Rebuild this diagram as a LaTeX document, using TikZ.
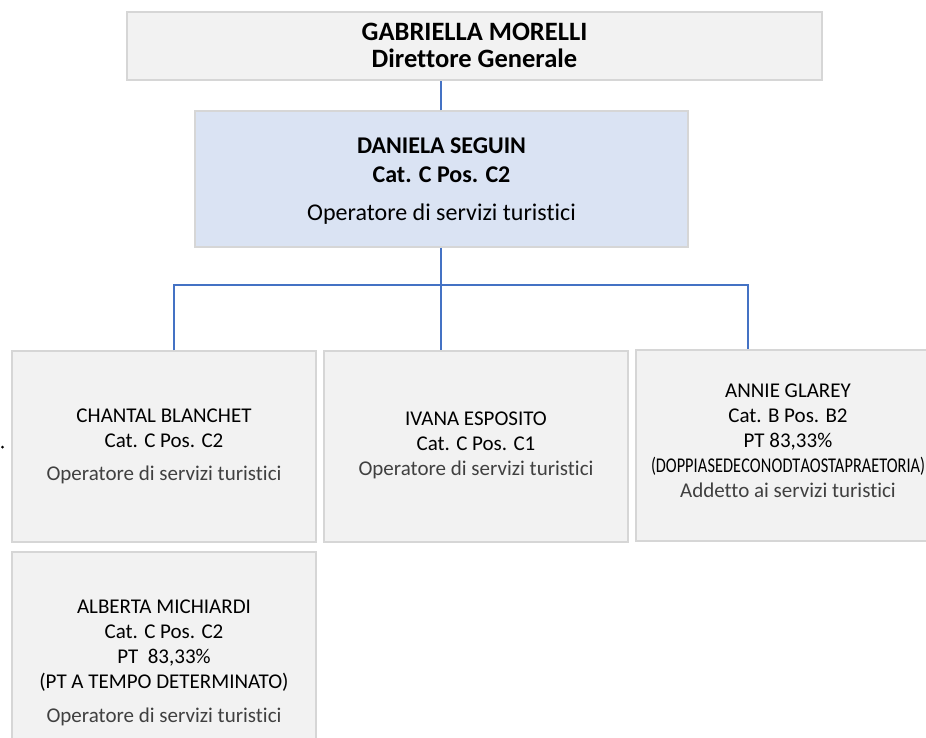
\documentclass[tikz,border=0pt]{standalone}
\usepackage{fontspec}
\usepackage{graphicx}
\setmainfont{Carlito}[Ligatures=NoCommon]
\definecolor{boxgray}{HTML}{F2F2F2}
\definecolor{boxline}{HTML}{D6D6D6}
\definecolor{boxblue}{HTML}{DAE3F3}
\definecolor{linkblue}{HTML}{4472C4}
\definecolor{rolegray}{HTML}{404040}
\newcommand{\role}[1]{\textcolor{rolegray}{#1}}
\newcommand{\squeezed}[2]{\resizebox{#1}{\height}{\spaceskip=0.5pt #2}}
\begin{document}
\begin{tikzpicture}[x=1pt,y=-1pt,
    box/.style={draw=boxline,line width=1.5pt,fill=boxgray,inner sep=0pt},
    staffbox/.style={box,minimum width=304pt,minimum height=191pt},
    staff/.style={align=center,inner sep=0pt,anchor=base,font=\fontsize{21}{25}\selectfont},
    link/.style={draw=linkblue,line width=1.6pt}]
  \useasboundingbox (0,0) rectangle (926,737);

  % vertici
  \node[box,minimum width=695pt,minimum height=68pt] (dg) at (474.5,46) {};
  \node[align=center,inner sep=0pt,anchor=base,font=\fontsize{26.5}{27}\selectfont\bfseries]
    (dg-txt) at (474.5,67) {GABRIELLA MORELLI\\Direttore Generale};
  \node[box,fill=boxblue,minimum width=493pt,minimum height=136pt] (seguin) at (441.5,179) {};
  \node[align=center,inner sep=0pt,anchor=base,font=\fontsize{24}{29}\selectfont]
    (seguin-txt) at (441.5,220)
    {\textbf{DANIELA SEGUIN}\\\textbf{Cat. C Pos. C2}\\[9pt]Operatore di servizi turistici};

  % ufficio
  \node[staffbox] (blanchet) at (164,446.5) {};
  \node[staffbox] (esposito) at (476,446.5) {};
  \node[staffbox] (glarey) at (788,445.5) {};
  \node[staffbox,minimum height=206pt] (michiardi) at (164,655) {};

  \node[staff] (blanchet-txt) at (164,480)
    {CHANTAL BLANCHET\\Cat. C Pos. C2\\[8pt]\role{Operatore di servizi turistici}};
  \node[staff] (esposito-txt) at (476,475)
    {IVANA ESPOSITO\\Cat. C Pos. C1\\\role{Operatore di servizi turistici}};
  \node[staff] (glarey-txt) at (788,497)
    {ANNIE GLAREY\\Cat. B Pos. B2\\PT 83,33\%\\
     \squeezed{274pt}{(DOPPIA SEDE CON ODT AOSTA PRAETORIA)}\\
     \role{Addetto ai servizi turistici}};
  \node[staff] (michiardi-txt) at (164,722)
    {ALBERTA MICHIARDI\\Cat. C Pos. C2\\PT\ \ 83,33\%\\(PT A TEMPO DETERMINATO)\\[9pt]%
     \role{Operatore di servizi turistici}};

  % collegamenti
  \coordinate (bus) at (441,285);
  \draw[link] (seguin.north -| bus) -- (dg.south -| bus);
  \draw[link] (seguin.south -| bus) -- (bus);
  \draw[link] ([xshift=10pt]blanchet.north) |- (bus) -| ([xshift=-40pt]glarey.north);
  \draw[link] (bus) -- (bus |- esposito.north);

  \fill (2.5,447) circle (1.5pt);
\end{tikzpicture}
\end{document}
